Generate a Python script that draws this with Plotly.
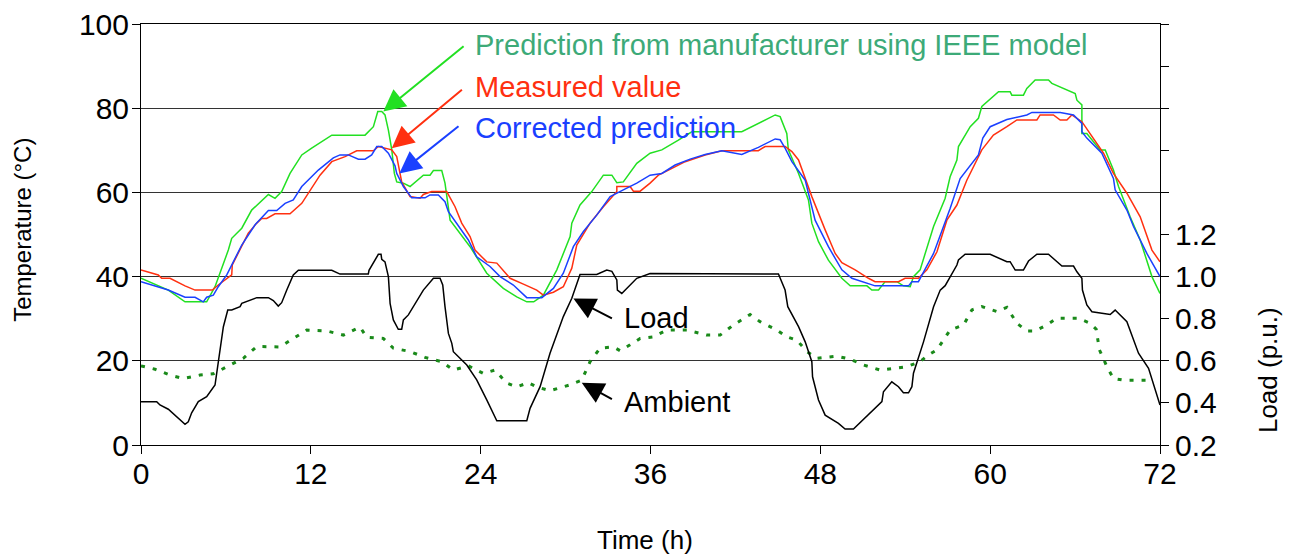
import plotly.graph_objects as go

# ---------------- data ----------------
meas_t = [0, 1.22, 1.46, 2.05, 3.11, 3.82, 5.04, 5.46, 6.41, 6.45, 7.58, 8.18, 8.53, 8.88, 9.47, 10.53,
          11.36, 11.82, 12.65, 13.48, 14.42, 15.24, 16.42, 16.77, 17.72, 18.07, 18.42, 19.01, 19.72, 19.95,
          20.54, 21.6, 22.19, 22.66, 23.25, 23.6, 24.43, 25.14, 26.08, 27.02, 27.96, 28.43, 29.14, 29.84,
          30.44, 30.79, 31.73, 32.67, 33.62, 33.62, 34.56, 34.79, 35.27, 35.97, 36.56, 37.27, 38.45, 39.86,
          41.04, 43.62, 44.1, 45.51, 45.99, 46.46, 47.4, 48.34, 49.05, 49.52, 50.46, 51.4, 51.87, 53.52,
          53.99, 54.93, 55.53, 56.24, 56.94, 57.65, 58.35, 59.41, 60.23, 61.18, 61.89, 63.3, 63.53, 64.47,
          64.95, 65.42, 65.77, 66.48, 67.3, 68.01, 68.71, 69.66, 70.6, 71.43, 72]
meas_v = [41.6, 40.4, 39.6, 39.6, 37.8, 36.8, 36.8, 38.0, 40.4, 42.8, 50.3, 52.7, 53.8, 53.8, 54.9, 54.9,
          57.4, 59.8, 64.1, 67.3, 68.5, 69.9, 69.9, 70.9, 70.1, 68.5, 62.5, 59.0, 58.6, 59.5,
          60.2, 60.2, 56.6, 52.7, 49.5, 46.3, 43.5, 43.2, 39.6, 38.2, 36.8, 35.6, 36.3, 37.6,
          42.0, 47.5, 52.7, 56.6, 60.2, 61.4, 61.4, 60.3, 60.3, 62.2, 64.1, 65.3, 67.3, 68.9,
          69.9, 69.9, 70.9, 70.9, 69.7, 67.7, 59.0, 51.1, 45.5, 43.3, 41.6, 39.6, 38.8, 38.8,
          39.6, 39.6, 41.6, 45.9, 53.4, 57.0, 62.9, 70.1, 73.6, 75.6, 77.2, 77.2, 78.4, 78.4,
          77.2, 77.2, 78.4, 76.8, 72.9, 69.3, 64.5, 59.8, 54.2, 46.3, 43.5]

ieee_t = [0, 1.93, 3.11, 4.64, 5.23, 6.17, 6.41, 7.12, 7.82, 9.0, 9.47, 9.94, 10.53, 11.36, 12.06, 13.48,
          15.83, 16.42, 16.73, 17.01, 17.24, 17.48, 17.72, 17.9, 18.07, 18.54, 19.01, 19.95, 20.42, 20.66,
          21.25, 21.48, 21.84, 23.25, 24.43, 25.6, 26.55, 27.26, 27.75, 28.43, 29.38, 30.32, 30.44, 31.02,
          31.85, 32.67, 33.27, 33.62, 34.08, 35.03, 35.97, 36.8, 37.97, 38.92, 42.45, 44.81, 45.16, 45.63,
          45.74, 46.46, 47.16, 47.4, 47.87, 48.57, 49.52, 50.11, 51.29, 51.64, 52.11, 52.58, 53.41, 53.87,
          54.35, 54.58, 55.05, 56.0, 56.82, 57.17, 57.65, 57.76, 58.59, 59.17, 59.41, 60.59, 61.41, 61.53,
          62.35, 62.59, 63.18, 64.12, 64.36, 65.65, 66.01, 66.13, 66.48, 66.48, 66.83, 67.77, 68.13, 68.71,
          69.07, 69.89, 70.6, 71.43, 72]
ieee_v = [39.6, 36.8, 34.0, 34.0, 37.6, 46.3, 49.1, 51.5, 55.8, 59.5, 58.6, 60.2, 64.5, 68.9, 70.5, 73.6,
          73.6, 75.6, 79.2, 79.2, 78.4, 74.8, 70.1, 64.5, 62.5, 62.2, 61.4, 64.1, 64.1, 65.2,
          65.2, 62.2, 53.4, 47.1, 40.8, 37.2, 35.2, 34.0, 34.0, 35.6, 41.6, 49.5, 52.7, 57.0,
          60.2, 64.1, 64.1, 62.3, 62.5, 66.9, 69.3, 70.1, 72.4, 74.4, 74.4, 78.4, 78.0, 74.0,
          70.1, 64.5, 58.2, 52.7, 48.3, 43.9, 39.6, 37.8, 37.8, 36.8, 36.8, 38.8, 38.8, 37.8,
          37.6, 40.0, 41.6, 51.9, 58.6, 63.7, 67.7, 70.9, 75.6, 77.6, 80.4, 83.9, 83.9, 83.1,
          83.1, 84.7, 86.7, 86.7, 85.9, 83.9, 83.5, 81.9, 80.8, 74.0, 74.0, 70.1, 70.1, 65.3,
          61.4, 54.2, 48.7, 40.0, 36.0]

corr_t = [0, 1.93, 3.11, 3.82, 4.4, 4.64, 5.11, 5.46, 6.06, 7.12, 8.06, 9.0, 9.59, 10.18, 10.76, 11.36,
          12.53, 13.59, 14.06, 14.65, 15.36, 15.83, 16.3, 16.66, 17.01, 17.48, 17.95, 18.07, 18.54, 19.13,
          20.07, 20.42, 21.01, 21.48, 21.72, 22.78, 23.13, 23.72, 24.66, 25.37, 26.31, 27.26, 28.32, 29.14,
          29.84, 30.55, 31.26, 32.2, 33.15, 34.08, 35.03, 35.97, 36.8, 37.74, 38.8, 39.86, 41.04, 42.45,
          43.62, 44.81, 45.16, 45.51, 45.99, 46.93, 47.63, 48.57, 49.52, 50.23, 51.87, 54.23, 54.47, 54.93,
          56.0, 57.17, 57.88, 59.17, 59.48, 60.0, 61.18, 62.59, 62.95, 64.95, 65.89, 66.48, 66.48, 66.83,
          67.89, 68.71, 68.83, 69.66, 70.13, 71.07, 72]
corr_v = [38.8, 36.8, 35.1, 35.1, 34.0, 35.1, 35.6, 37.6, 40.4, 47.5, 52.3, 55.7, 55.7, 57.4, 58.2, 61.4,
          65.3, 68.2, 68.9, 68.9, 67.9, 67.9, 68.9, 70.9, 70.9, 69.3, 66.3, 64.5, 61.4, 58.7,
          58.7, 59.4, 59.4, 57.8, 55.4, 50.3, 48.7, 44.7, 42.4, 40.0, 38.0, 35.0, 35.0, 37.2,
          40.8, 47.1, 50.7, 54.6, 59.0, 60.6, 62.2, 64.1, 64.5, 66.5, 67.9, 69.0, 69.9, 69.0,
          70.7, 72.7, 72.5, 70.5, 67.3, 62.9, 53.4, 47.1, 41.6, 39.6, 37.8, 37.8, 38.8, 38.8,
          45.5, 56.2, 63.3, 68.9, 72.9, 75.6, 77.3, 78.4, 79.0, 79.0, 78.4, 76.4, 74.4, 72.9,
          69.3, 63.3, 60.6, 55.8, 51.9, 45.5, 40.0]

load_t = [0, 1.11, 1.34, 1.93, 3.11, 3.34, 3.58, 4.05, 4.64, 5.23, 5.82, 6.13, 6.41, 7.0, 7.12, 8.18,
          9.0, 9.35, 9.7, 9.94, 10.3, 10.76, 11.12, 13.48, 14.06, 16.06, 16.11, 16.49, 16.77, 16.96,
          17.01, 17.24, 17.48, 17.6, 17.83, 18.18, 18.42, 18.54, 18.89, 19.95, 20.66, 21.13, 21.32, 21.48,
          21.72, 21.96, 22.07, 23.02, 23.72, 24.43, 25.14, 27.26, 27.49, 28.2, 28.9, 29.84, 30.44, 31.02,
          32.2, 32.91, 33.27, 33.62, 33.66, 33.97, 35.03, 35.97, 45.04, 45.51, 45.7, 46.46, 46.93, 47.4,
          47.45, 47.87, 48.34, 49.28, 49.75, 50.34, 52.35, 52.46, 53.05, 53.52, 53.87, 54.23, 54.47, 54.58,
          55.29, 56.0, 56.47, 56.82, 57.65, 57.76, 58.23, 60.0, 61.18, 61.41, 61.77, 62.35, 62.71, 63.3,
          64.12, 65.07, 65.89, 66.13, 66.48, 66.52, 66.83, 67.19, 68.48, 68.83, 69.66, 70.48, 71.19, 72]
load_v = [0.406, 0.406, 0.39, 0.37, 0.298, 0.31, 0.353, 0.406, 0.43, 0.485, 0.762, 0.841, 0.841, 0.857, 0.873, 0.9,
          0.9, 0.886, 0.86, 0.876, 0.936, 1.008, 1.03, 1.03, 1.012, 1.012, 1.03, 1.074, 1.106, 1.106,
          1.082, 1.07, 1.0, 0.873, 0.794, 0.75, 0.75, 0.794, 0.818, 0.936, 0.992, 0.992, 0.96, 0.857,
          0.73, 0.683, 0.643, 0.58, 0.509, 0.414, 0.315, 0.315, 0.374, 0.477, 0.636, 0.81, 0.897, 1.01,
          1.01, 1.031, 1.025, 0.984, 0.936, 0.92, 0.992, 1.015, 1.012, 0.936, 0.857, 0.762, 0.69, 0.596,
          0.524, 0.414, 0.342, 0.303, 0.276, 0.276, 0.406, 0.453, 0.5, 0.477, 0.448, 0.448, 0.477, 0.541,
          0.69, 0.857, 0.936, 0.957, 1.055, 1.079, 1.106, 1.106, 1.071, 1.071, 1.031, 1.031, 1.074, 1.106,
          1.106, 1.05, 1.05, 1.023, 0.992, 0.936, 0.865, 0.833, 0.82, 0.841, 0.786, 0.636, 0.564, 0.39]

amb_t = [0, 0.99, 2.05, 2.99, 4.17, 5.11, 6.06, 7.23, 8.18, 9.82, 10.76, 11.71, 13.12, 14.3, 15.48, 15.95,
         17.12, 17.83, 19.01, 20.07, 21.25, 22.07, 23.13, 24.19, 25.02, 25.84, 26.55, 27.37, 27.96, 28.9,
         30.32, 31.14, 31.73, 32.44, 33.38, 33.85, 34.56, 35.27, 36.21, 37.15, 38.57, 39.98, 40.92, 41.86,
         43.04, 43.74, 44.93, 45.63, 46.34, 47.05, 47.75, 49.17, 50.11, 51.05, 52.23, 53.17, 54.11, 55.05,
         55.64, 56.24, 56.59, 57.17, 58.12, 58.71, 59.41, 60.47, 61.18, 61.89, 62.59, 63.18, 64.0, 64.71,
         66.24, 67.07, 67.49, 67.72, 68.25, 68.71, 69.42, 71.07]
amb_v = [18.8, 18.0, 16.6, 15.8, 16.6, 16.9, 18.6, 20.6, 23.4, 23.3, 25.3, 27.3, 27.1, 26.1, 28.0, 25.6,
         25.3, 23.0, 22.2, 20.8, 19.8, 17.8, 18.8, 17.0, 17.8, 14.7, 13.8, 14.8, 13.8, 12.9,
         14.3, 15.4, 19.8, 23.0, 23.3, 22.4, 23.8, 25.3, 25.7, 27.3, 27.3, 26.1, 26.1, 28.5,
         31.0, 29.3, 27.3, 25.7, 24.9, 22.2, 20.6, 21.1, 20.4, 19.0, 17.8, 18.2, 18.6, 19.8,
         21.4, 22.6, 24.5, 27.3, 28.5, 32.1, 32.9, 31.7, 32.7, 28.9, 27.1, 27.1, 28.5, 30.1,
         30.1, 28.9, 27.5, 22.6, 18.6, 15.8, 15.4, 15.4]

x_ticks = [0, 12, 24, 36, 48, 60, 72]
y_ticks = [0, 20, 40, 60, 80, 100]
y2_ticks = [0.2, 0.4, 0.6, 0.8, 1.0, 1.2, 1.4, 1.6, 1.8, 2.0, 2.2]
y2_text = ["0.2", "0.4", "0.6", "0.8", "1.0", "1.2", "", "", "", "", ""]

FONT = "Liberation Sans, Arial, sans-serif"
C_IEEE = "#22E022"
C_MEAS = "#FF3010"
C_CORR = "#1A40FF"
C_AMB = "#1A8A1A"
C_IEEE_TXT = "#3DAA78"

fig = go.Figure()
fig.add_trace(go.Scatter(x=load_t, y=load_v, mode="lines", yaxis="y2",
                         line=dict(color="black", width=1.5), name="Load"))
fig.add_trace(go.Scatter(x=amb_t, y=amb_v, mode="lines",
                         line=dict(color=C_AMB, width=3, dash="4px,8px"), name="Ambient"))
fig.add_trace(go.Scatter(x=ieee_t, y=ieee_v, mode="lines",
                         line=dict(color=C_IEEE, width=1.5), name="IEEE"))
fig.add_trace(go.Scatter(x=meas_t, y=meas_v, mode="lines",
                         line=dict(color=C_MEAS, width=1.5), name="Measured"))
fig.add_trace(go.Scatter(x=corr_t, y=corr_v, mode="lines",
                         line=dict(color=C_CORR, width=1.5), name="Corrected"))

ann = []
# text labels
for txt, xx, yy, col in [
    ("Prediction from manufacturer using IEEE model", 23.46, 95.0, C_IEEE_TXT),
    ("Measured value", 23.46, 85.0, C_MEAS),
    ("Corrected prediction", 23.46, 75.3, C_CORR),
    ("Load", 34.0, 30.2, "black"),
    ("Ambient", 34.0, 10.2, "black"),
]:
    ann.append(dict(text=txt, x=xx, y=yy, xref="x", yref="y", xanchor="left", yanchor="middle",
                    showarrow=False, font=dict(family=FONT, size=29, color=col)))
# arrows
for hx, hy, tx, ty, col in [
    (17.12, 79.2, 22.9, 95.0, C_IEEE),
    (17.72, 70.5, 22.78, 84.7, C_MEAS),
    (18.25, 64.5, 22.54, 76.0, C_CORR),
    (30.55, 34.8, 33.38, 29.9, "black"),
    (31.14, 14.8, 33.38, 10.7, "black"),
]:
    ann.append(dict(text="", x=hx, y=hy, ax=tx, ay=ty, xref="x", yref="y", axref="x", ayref="y",
                    showarrow=True, arrowhead=2, arrowsize=2.2, arrowwidth=2, arrowcolor=col))
# axis titles as annotations (paper coords relative to plot area)
ann.append(dict(text="Temperature (°C)", x=-0.1158, y=0.511, xref="paper", yref="paper",
                xanchor="center", yanchor="middle", showarrow=False, textangle=-90,
                font=dict(family=FONT, size=24, color="black")))
ann.append(dict(text="Load (p.u.)", x=1.106, y=0.178, xref="paper", yref="paper",
                xanchor="center", yanchor="middle", showarrow=False, textangle=-90,
                font=dict(family=FONT, size=26, color="black")))
ann.append(dict(text="Time (h)", x=0.4946, y=-0.2257, xref="paper", yref="paper",
                xanchor="center", yanchor="middle", showarrow=False,
                font=dict(family=FONT, size=26, color="black")))

fig.update_layout(
    width=1283, height=548,
    margin=dict(l=133, r=131, t=16, b=111, autoexpand=False),
    paper_bgcolor="white", plot_bgcolor="white",
    showlegend=False,
    font=dict(family=FONT, color="black"),
    xaxis=dict(range=[0, 72], tickvals=x_ticks, ticks="outside", ticklen=8, tickcolor="black",
               showline=True, linecolor="black", linewidth=1, mirror=True, showgrid=False,
               zeroline=False, tickfont=dict(size=30), ticklabelstandoff=-6, automargin=False),
    yaxis=dict(range=[0, 100], tickvals=y_ticks, ticks="outside", ticklen=8, tickcolor="black",
               showline=True, linecolor="black", linewidth=1, showgrid=True, gridcolor="#333333",
               gridwidth=1, zeroline=False, tickfont=dict(size=30), ticklabeloverflow="allow",
               ticklabelstandoff=-3, automargin=False),
    yaxis2=dict(range=[0.2, 2.2], tickvals=y2_ticks, ticktext=y2_text, overlaying="y", side="right",
                ticks="outside", ticklen=8, tickcolor="black", showline=True, linecolor="black",
                linewidth=1, showgrid=False, zeroline=False, tickfont=dict(size=30),
                ticklabeloverflow="allow", automargin=False),
    annotations=ann,
)
fig.write_html("out.html", config={"displayModeBar": False})
